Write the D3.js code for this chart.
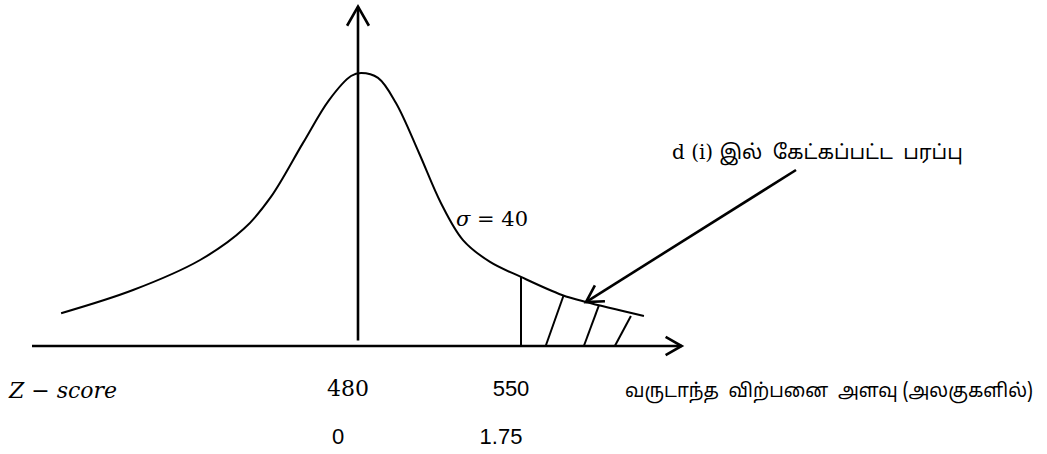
<!DOCTYPE html>
<html>
<head>
<meta charset="utf-8">
<script src="https://cdn.jsdelivr.net/npm/d3@7"></script>
<style>
  body { margin: 0; background: #fff; }
  text { white-space: pre; }
  .tam { font-family: "Latha", "Noto Sans Tamil", "Lohit Tamil", "Noto Sans", sans-serif; }
  .sans { font-family: "Liberation Sans", Arial, sans-serif; }
  .math { font-family: "DejaVu Serif", "Liberation Serif", serif; }
</style>
</head>
<body>
<svg id="chart" width="1047" height="454"></svg>
<script>
// bell curve: annual sales vs relative height (peak = 1)
var curveSales  = [352.5, 383.4, 412.2, 431.1, 442.6, 456.4, 467.5, 477.0, 481.3, 488.6, 496.3, 506.2, 515.6, 525.1, 536.7, 550.0, 567.6, 577.9, 602.8];
var curveHeight = [0.12, 0.205, 0.315, 0.43, 0.546, 0.744, 0.90, 0.989, 1.0, 0.982, 0.89, 0.707, 0.524, 0.388, 0.308, 0.253, 0.187, 0.161, 0.11];

var mean = 480;
var cutoff = 550;
var cutoffHeight = 0.253;

// hatching of the requested area
var hatchBase = [560.6, 577.0, 590.3];
var hatchTop = [568.2, 583.5, 597.2];
var hatchTopHeight = [0.183, 0.150, 0.110];

var salesTicks = ["480", "550"];
var zTicks = ["0", "1.75"];
var sigmaLabel = "40";
var areaLabel = "இல்  கேட்கப்பட்ட  பரப்பு";
var xTitle = "வருடாந்த  விற்பனை  அளவு (அலகுகளில்)";

var svg = d3.select("#chart");

var x = d3.scaleLinear().domain([340, 620]).range([32, 684]);
var y = d3.scaleLinear().domain([0, 1]).range([346, 73]);

function chevron(tx, ty, angle, len, spread) {
  // open arrow head, angle = direction the arrow points to
  var a1 = angle + Math.PI - spread, a2 = angle + Math.PI + spread;
  return "M" + (tx + len * Math.cos(a1)) + "," + (ty + len * Math.sin(a1)) +
         "L" + tx + "," + ty +
         "L" + (tx + len * Math.cos(a2)) + "," + (ty + len * Math.sin(a2));
}

var g = svg.append("g").attr("fill", "none").attr("stroke", "#000");

// x axis with arrow
g.append("line")
  .attr("x1", x(340)).attr("x2", x(619))
  .attr("y1", y(0)).attr("y2", y(0))
  .attr("stroke-width", 2.6);
g.append("path")
  .attr("d", chevron(x(619), y(0), 0, 18.5, 0.52))
  .attr("stroke-width", 2.6);

// y axis at the mean
g.append("line")
  .attr("x1", x(mean)).attr("x2", x(mean))
  .attr("y1", y(0.02)).attr("y2", y(1.243))
  .attr("stroke-width", 2.6);
g.append("path")
  .attr("d", chevron(x(mean), y(1.243), -Math.PI / 2, 22, 0.52))
  .attr("stroke-width", 2.6);

// curve
var pts = curveSales.map(function (d, i) { return [d, curveHeight[i]]; });
g.append("path")
  .datum(pts)
  .attr("d", d3.line()
    .x(function (d) { return x(d[0]); })
    .y(function (d) { return y(d[1]); })
    .curve(d3.curveCatmullRom))
  .attr("stroke-width", 2);

// cutoff line and hatching
g.append("line")
  .attr("x1", x(cutoff)).attr("x2", x(cutoff))
  .attr("y1", y(0)).attr("y2", y(cutoffHeight))
  .attr("stroke-width", 2);
g.selectAll(".hatch")
  .data(hatchBase)
  .enter()
  .append("line")
    .attr("x1", function (d) { return x(d); })
    .attr("y1", y(0))
    .attr("x2", function (d, i) { return x(hatchTop[i]); })
    .attr("y2", function (d, i) { return y(hatchTopHeight[i]); })
    .attr("stroke-width", 2);

// pointer from the label to the area
var tip = [x(577.9), y(0.161)];
var tail = [796, 170];
g.append("line")
  .attr("x1", tail[0]).attr("y1", tail[1])
  .attr("x2", tip[0]).attr("y2", tip[1])
  .attr("stroke-width", 2.6);
g.append("path")
  .attr("d", chevron(tip[0], tip[1], Math.atan2(tip[1] - tail[1], tip[0] - tail[0]), 19, 0.52))
  .attr("stroke-width", 2.6);

// texts
var t = svg.append("g").attr("fill", "#000");

var lab = t.append("text").attr("x", 672).attr("y", 159);
lab.append("tspan").attr("class", "math").style("font-size", "20px").text("d (i) ");
lab.append("tspan").attr("class", "tam").style("font-size", "20px").text(areaLabel);

var sig = t.append("text").attr("class", "math").attr("x", 456).attr("y", 226)
  .style("font-size", "21px");
sig.append("tspan").style("font-style", "italic").text("σ");
sig.append("tspan").text(" = " + sigmaLabel);

var zs = t.append("text").attr("class", "math").attr("x", 9).attr("y", 398)
  .style("font-size", "22px");
zs.append("tspan").style("font-style", "italic").text("Z");
zs.append("tspan").text(" − ");
zs.append("tspan").style("font-style", "italic").text("score");

var tickSales = [mean, cutoff];
t.selectAll(".tick1")
  .data(salesTicks)
  .enter()
  .append("text")
    .attr("class", function (d, i) { return i === 0 ? "math" : "sans"; })
    .attr("x", function (d, i) { return x(tickSales[i]) - 10; })
    .attr("y", 396)
    .attr("text-anchor", "middle")
    .style("font-size", "22px")
    .text(function (d) { return d; });

t.selectAll(".tick2")
  .data(zTicks)
  .enter()
  .append("text")
    .attr("class", "sans")
    .attr("x", function (d, i) { return x(tickSales[i]) - 20; })
    .attr("y", 444)
    .attr("text-anchor", "middle")
    .style("font-size", "22px")
    .text(function (d) { return d; });

t.append("text")
  .attr("class", "tam")
  .attr("x", 625).attr("y", 397)
  .style("font-size", "19px")
  .attr("textLength", 408).attr("lengthAdjust", "spacingAndGlyphs")
  .text(xTitle);
</script>
</body>
</html>
